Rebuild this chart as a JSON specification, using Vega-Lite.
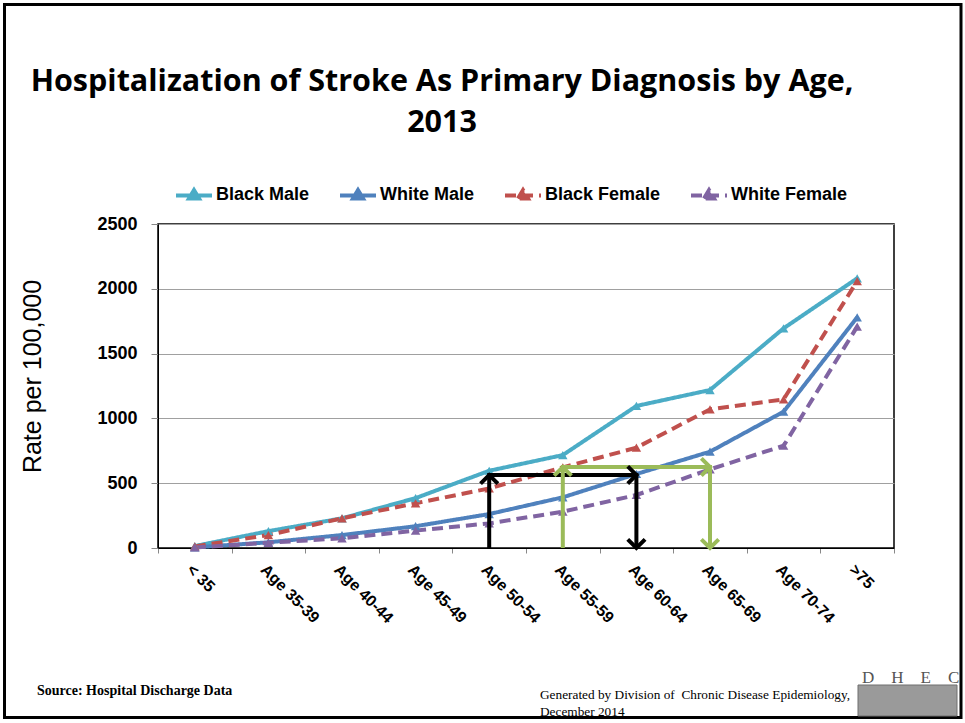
{
  "$schema": "https://vega.github.io/schema/vega-lite/v6.json",
  "width": 736,
  "height": 324,
  "autosize": {"type": "none"},
  "padding": {"left": 158, "top": 224, "right": 71, "bottom": 175},
  "background": "#ffffff",
  "title": {
    "text": ["Hospitalization of Stroke As Primary Diagnosis by Age,", "2013"],
    "font": "Open Sans",
    "fontSize": 30.5,
    "fontWeight": "bold",
    "color": "#000000",
    "anchor": "middle",
    "frame": "group",
    "baseline": "alphabetic",
    "dx": -84,
    "lineHeight": 41,
    "offset": -159
  },
  "datasets": {
    "rates": [
      {"age": "< 35", "series": "Black Male", "rate": 15},
      {"age": "Age 35-39", "series": "Black Male", "rate": 130},
      {"age": "Age 40-44", "series": "Black Male", "rate": 229},
      {"age": "Age 45-49", "series": "Black Male", "rate": 385},
      {"age": "Age 50-54", "series": "Black Male", "rate": 596},
      {"age": "Age 55-59", "series": "Black Male", "rate": 717},
      {"age": "Age 60-64", "series": "Black Male", "rate": 1096},
      {"age": "Age 65-69", "series": "Black Male", "rate": 1219},
      {"age": "Age 70-74", "series": "Black Male", "rate": 1695},
      {"age": ">75", "series": "Black Male", "rate": 2081},
      {"age": "< 35", "series": "White Male", "rate": 5},
      {"age": "Age 35-39", "series": "White Male", "rate": 44},
      {"age": "Age 40-44", "series": "White Male", "rate": 100},
      {"age": "Age 45-49", "series": "White Male", "rate": 168},
      {"age": "Age 50-54", "series": "White Male", "rate": 262},
      {"age": "Age 55-59", "series": "White Male", "rate": 391},
      {"age": "Age 60-64", "series": "White Male", "rate": 571},
      {"age": "Age 65-69", "series": "White Male", "rate": 743},
      {"age": "Age 70-74", "series": "White Male", "rate": 1052},
      {"age": ">75", "series": "White Male", "rate": 1780},
      {"age": "< 35", "series": "Black Female", "rate": 12},
      {"age": "Age 35-39", "series": "Black Female", "rate": 100},
      {"age": "Age 40-44", "series": "Black Female", "rate": 229},
      {"age": "Age 45-49", "series": "Black Female", "rate": 345},
      {"age": "Age 50-54", "series": "Black Female", "rate": 460},
      {"age": "Age 55-59", "series": "Black Female", "rate": 622},
      {"age": "Age 60-64", "series": "Black Female", "rate": 774},
      {"age": "Age 65-69", "series": "Black Female", "rate": 1070},
      {"age": "Age 70-74", "series": "Black Female", "rate": 1147},
      {"age": ">75", "series": "Black Female", "rate": 2060},
      {"age": "< 35", "series": "White Female", "rate": 4},
      {"age": "Age 35-39", "series": "White Female", "rate": 40},
      {"age": "Age 40-44", "series": "White Female", "rate": 75},
      {"age": "Age 45-49", "series": "White Female", "rate": 134},
      {"age": "Age 50-54", "series": "White Female", "rate": 190},
      {"age": "Age 55-59", "series": "White Female", "rate": 280},
      {"age": "Age 60-64", "series": "White Female", "rate": 409},
      {"age": "Age 65-69", "series": "White Female", "rate": 607},
      {"age": "Age 70-74", "series": "White Female", "rate": 789},
      {"age": ">75", "series": "White Female", "rate": 1708}
    ],
    "arrows": [
      {"arrow": "black", "age": "Age 50-54", "rate": 0, "ord": 1},
      {"arrow": "black", "age": "Age 50-54", "rate": 563, "ord": 2},
      {"arrow": "black", "age": "Age 60-64", "rate": 563, "ord": 3},
      {"arrow": "black", "age": "Age 60-64", "rate": 0, "ord": 4},
      {"arrow": "green", "age": "Age 55-59", "rate": 0, "ord": 1},
      {"arrow": "green", "age": "Age 55-59", "rate": 625, "ord": 2},
      {"arrow": "green", "age": "Age 65-69", "rate": 625, "ord": 3},
      {"arrow": "green", "age": "Age 65-69", "rate": 0, "ord": 4}
    ],
    "heads": [
      {"arrow": "black", "age": "Age 50-54", "rate": 563, "head": "up"},
      {"arrow": "black", "age": "Age 60-64", "rate": 563, "head": "right"},
      {"arrow": "black", "age": "Age 60-64", "rate": 0, "head": "down"},
      {"arrow": "green", "age": "Age 55-59", "rate": 625, "head": "up"},
      {"arrow": "green", "age": "Age 65-69", "rate": 625, "head": "right"},
      {"arrow": "green", "age": "Age 65-69", "rate": 0, "head": "down"}
    ],
    "notes": [
      {"note": "source", "label": "Source: Hospital Discharge Data"},
      {"note": "gen1", "label": "Generated by Division of\u00a0 Chronic Disease Epidemiology,"},
      {"note": "gen2", "label": "December 2014"},
      {"note": "logo", "label": "D\u00a0\u00a0\u00a0\u00a0H\u00a0\u00a0\u00a0\u00a0E\u00a0\u00a0\u00a0\u00a0C"}
    ]
  },
  "layer": [
    {
      "data": {"values": [{"frame": 1}]},
      "mark": {"type": "rect", "fill": null, "fillOpacity": 0, "stroke": "#000000", "strokeWidth": 3},
      "encoding": {
        "x": {"value": -153.5},
        "x2": {"value": 803},
        "y": {"value": -219.5},
        "y2": {"value": 493.5}
      }
    },
    {
      "data": {"name": "rates"},
      "mark": {"type": "line", "strokeWidth": 4},
      "encoding": {
        "x": {
          "field": "age",
          "type": "nominal",
          "sort": null,
          "scale": {"type": "band", "domain": ["< 35", "Age 35-39", "Age 40-44", "Age 45-49", "Age 50-54", "Age 55-59", "Age 60-64", "Age 65-69", "Age 70-74", ">75"], "paddingInner": 0, "paddingOuter": 0},
          "axis": {
            "title": null,
            "labelAngle": 45,
            "labelAlign": "left",
            "labelBaseline": "top",
            "labelFont": "Liberation Sans",
            "labelFontSize": 16,
            "labelFontWeight": "bold",
            "labelColor": "#000000",
            "labelPadding": 8,
            "tickBand": "extent",
            "tickSize": 5,
            "tickColor": "#888888",
            "domainColor": "#000000",
            "grid": false,
            "labelLimit": 200
          }
        },
        "y": {
          "field": "rate",
          "type": "quantitative",
          "scale": {"domain": [0, 2500], "nice": false},
          "axis": {
            "title": "Rate per 100,000",
            "values": [0, 500, 1000, 1500, 2000, 2500],
            "format": "d",
            "labelFont": "Liberation Sans",
            "labelFontSize": 18,
            "labelFontWeight": "bold",
            "labelColor": "#000000",
            "labelPadding": 14,
            "tickSize": 7,
            "tickColor": "#888888",
            "domainColor": "#000000",
            "grid": true,
            "gridColor": "#a0a0a0",
            "gridWidth": 1,
            "titleFont": "Liberation Sans",
            "titleFontSize": 25,
            "titleFontWeight": "normal",
            "titleColor": "#000000",
            "titleAngle": -90,
            "titleAlign": "center",
            "titleBaseline": "alphabetic",
            "titleX": -118,
            "titleY": 152
          }
        },
        "color": {
          "field": "series",
          "type": "nominal",
          "scale": {"domain": ["Black Male", "White Male", "Black Female", "White Female"], "range": ["#4BACC6", "#4F81BD", "#C0504D", "#8064A2"]},
          "legend": {"title": null}
        },
        "strokeDash": {
          "field": "series",
          "type": "nominal",
          "scale": {"domain": ["Black Male", "White Male", "Black Female", "White Female"], "range": [[1, 0], [1, 0], [11, 6], [11, 6]]},
          "legend": {"title": null}
        }
      }
    },
    {
      "data": {"name": "rates"},
      "mark": {"type": "point", "shape": "triangle-up", "filled": true, "size": 90, "opacity": 1},
      "encoding": {
        "x": {"field": "age", "type": "nominal", "sort": null},
        "y": {"field": "rate", "type": "quantitative"},
        "color": {"field": "series", "type": "nominal", "legend": {"title": null}}
      }
    },
    {
      "data": {"name": "arrows"},
      "mark": {"type": "line", "strokeWidth": 4, "strokeCap": "butt", "strokeJoin": "miter"},
      "encoding": {
        "x": {"field": "age", "type": "nominal", "sort": null},
        "y": {"field": "rate", "type": "quantitative"},
        "order": {"field": "ord", "type": "quantitative"},
        "stroke": {"field": "arrow", "type": "nominal", "scale": {"domain": ["black", "green"], "range": ["#000000", "#9BBB59"]}, "legend": null}
      }
    },
    {
      "data": {"name": "heads"},
      "mark": {"type": "point", "filled": false, "strokeWidth": 4, "size": 300, "opacity": 1, "strokeCap": "butt"},
      "encoding": {
        "x": {"field": "age", "type": "nominal", "sort": null},
        "y": {"field": "rate", "type": "quantitative"},
        "shape": {"field": "head", "type": "nominal", "scale": {"domain": ["up", "right", "down"], "range": ["M-1,1L0,0L1,1", "M-1,-1L0,0L-1,1", "M-1,-1L0,0L1,-1"]}, "legend": null},
        "stroke": {"field": "arrow", "type": "nominal", "legend": null}
      }
    },
    {
      "data": {"name": "notes"},
      "transform": [{"filter": "datum.note === 'source'"}],
      "mark": {"type": "text", "font": "Liberation Serif", "fontSize": 14, "fontWeight": "bold", "align": "left", "baseline": "alphabetic", "color": "#000000"},
      "encoding": {"text": {"field": "label"}, "x": {"value": -121}, "y": {"value": 471}}
    },
    {
      "data": {"name": "notes"},
      "transform": [{"filter": "datum.note === 'gen1'"}],
      "mark": {"type": "text", "font": "Liberation Serif", "fontSize": 13.3, "align": "left", "baseline": "alphabetic", "color": "#000000"},
      "encoding": {"text": {"field": "label"}, "x": {"value": 382}, "y": {"value": 475}}
    },
    {
      "data": {"name": "notes"},
      "transform": [{"filter": "datum.note === 'gen2'"}],
      "mark": {"type": "text", "font": "Liberation Serif", "fontSize": 13.3, "align": "left", "baseline": "alphabetic", "color": "#000000"},
      "encoding": {"text": {"field": "label"}, "x": {"value": 382}, "y": {"value": 492}}
    },
    {
      "data": {"values": [{"logo": 1}]},
      "mark": {"type": "rect", "fill": "#9a9a9a", "stroke": "#6f6f6f", "strokeWidth": 1},
      "encoding": {"x": {"value": 700}, "x2": {"value": 799}, "y": {"value": 461}, "y2": {"value": 492}}
    },
    {
      "data": {"name": "notes"},
      "transform": [{"filter": "datum.note === 'logo'"}],
      "mark": {"type": "text", "font": "Liberation Serif", "fontSize": 17, "align": "left", "baseline": "alphabetic", "color": "#555555"},
      "encoding": {"text": {"field": "label"}, "x": {"value": 704}, "y": {"value": 459}}
    }
  ],
  "config": {
    "view": {"stroke": "#000000", "strokeWidth": 1.5},
    "font": "Liberation Sans",
    "legend": {
      "orient": "none",
      "legendX": 16,
      "legendY": -49,
      "direction": "horizontal",
      "symbolType": "M-1,0H1M-0.28,0.17L0,-0.3L0.28,0.17Z",
      "symbolSize": 1296,
      "symbolStrokeWidth": 4,
      "labelFont": "Liberation Sans",
      "labelFontSize": 18,
      "labelFontWeight": "bold",
      "labelColor": "#000000",
      "labelOffset": 2,
      "columnPadding": 22,
      "labelLimit": 300
    }
  }
}
